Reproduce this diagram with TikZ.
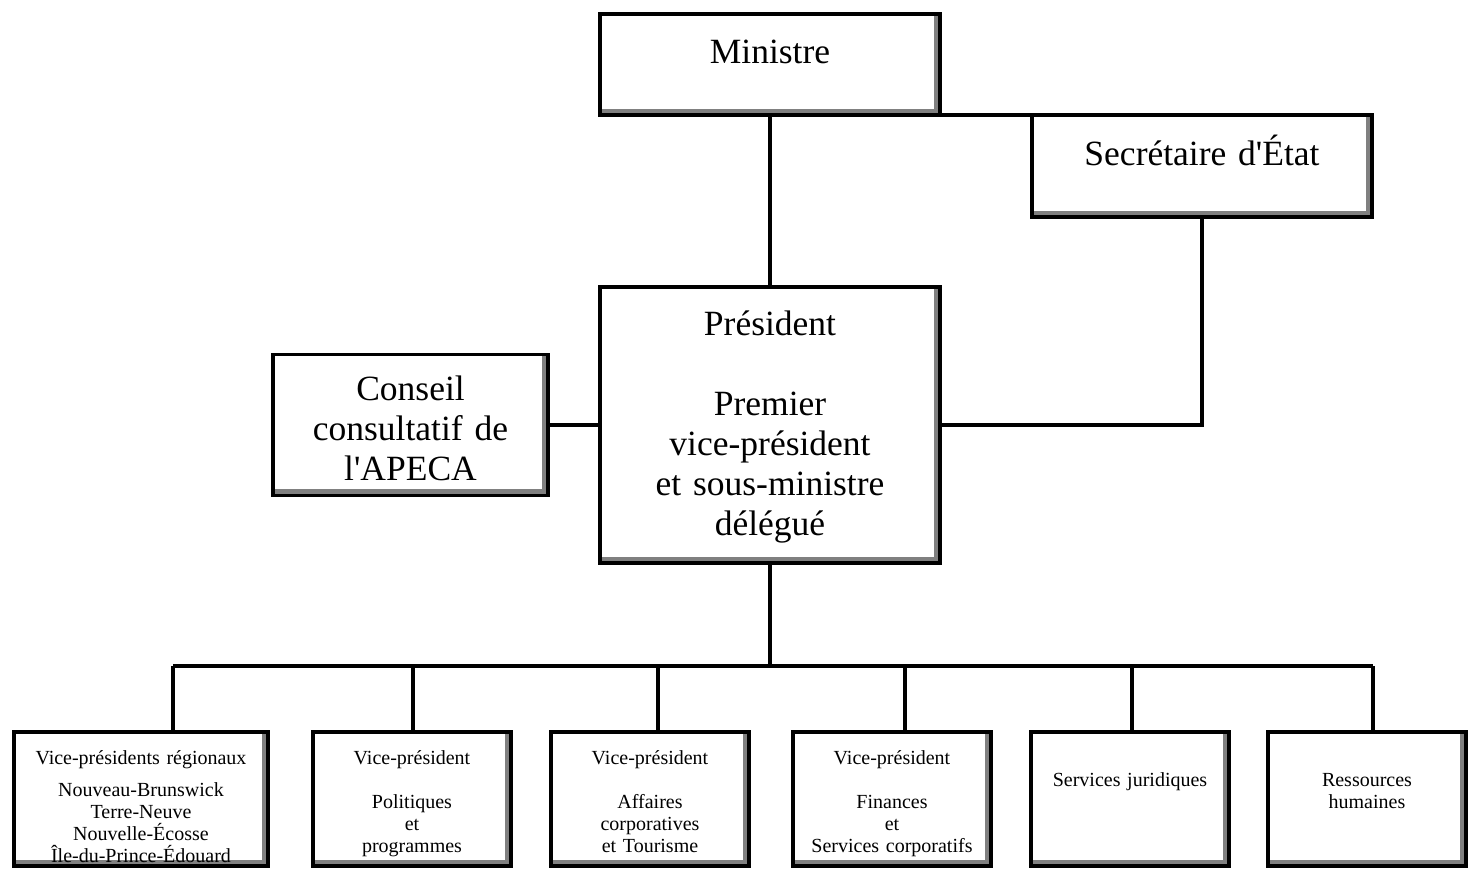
\documentclass[tikz,border=0pt]{standalone}
\usepackage{fontspec}
\setmainfont{Liberation Serif}[Ligatures=TeXOff]
\usetikzlibrary{calc}
\definecolor{ombre}{RGB}{128,128,128}

\begin{document}
\begin{tikzpicture}[x=1pt, y=-1pt,
  cadre/.style={draw, line width=3.5pt, inner sep=0pt, outer sep=0pt,
    align=center, text width=#1, font=\fontsize{35.5}{40}\selectfont,
    path picture={\draw[ombre, line width=13pt]
      (path picture bounding box.south west) -- (path picture bounding box.south east)
      -- (path picture bounding box.north east);}},
  petit/.style={cadre=#1, font=\fontsize{20}{22}\selectfont,
    text height=32pt, text depth=102pt},
  lien/.style={line width=3.5pt}
]
\useasboundingbox (0,0) rectangle (1468,868);
% Direction
\node[cadre=340pt, text height=49pt, text depth=52pt] (ministre) at (770,64.5) {Ministre};
\node[cadre=340pt, text height=50pt, text depth=52pt] (secretaire) at (1202,166) {Secrétaire d'État};
\node[cadre=275pt, text height=46pt, text depth=95pt] (conseil) at (410.5,425)
  {Conseil\\consultatif de\\l'APECA};
\node[cadre=340pt, text height=48pt, text depth=228pt] (president) at (770,425)
  {Président\\[40pt]Premier\\vice-président\\et sous-ministre\\délégué};
% Vice-presidences et services
\node[petit=254pt] (vp1) at (141,799) {Vice-présidents régionaux\\[10pt]Nouveau-Brunswick\\
  Terre-Neuve\\Nouvelle-Écosse\\Île-du-Prince-Édouard};
\node[petit=198pt] (vp2) at (412,799) {Vice-président\\[22pt]Politiques\\et\\programmes};
\node[petit=198pt] (vp3) at (650,799) {Vice-président\\[22pt]Affaires\\corporatives\\et Tourisme};
\node[petit=198pt] (vp4) at (892,799) {Vice-président\\[22pt]Finances\\et\\Services corporatifs};
\node[petit=198pt, text height=54pt, text depth=80pt] (vp5) at (1130,799) {Services juridiques};
\node[petit=198pt, text height=54pt, text depth=80pt] (vp6) at (1367,799) {Ressources\\humaines};
% Liens
\draw[lien] (ministre.south) -- (president.north);
\draw[lien] (ministre.south east) -- (secretaire.north west);
\draw[lien] (secretaire.south) |- (president.east);
\draw[lien] (conseil.east) -- (president.west);
\coordinate (b1) at (173,666);
\coordinate (b2) at (413,666);
\coordinate (b3) at (658,666);
\coordinate (b4) at (905,666);
\coordinate (b5) at (1132,666);
\coordinate (b6) at (1373,666);
\draw[lien] (b1) -- (b6);
\draw[lien] (president.south) -- (president.south |- b1);
\foreach \i in {1,...,6}
  \draw[lien] (b\i) -- (b\i |- vp\i.north);
\end{tikzpicture}
\end{document}
